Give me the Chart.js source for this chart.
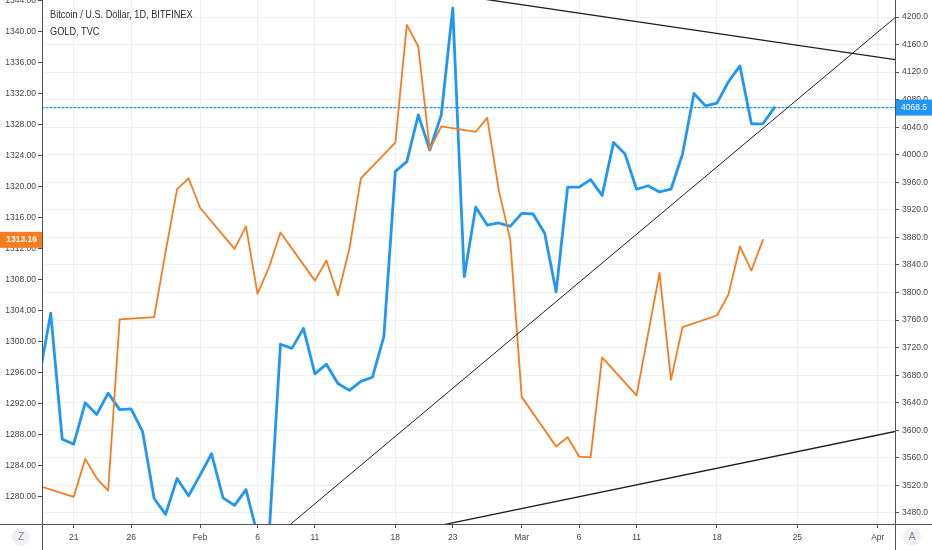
<!DOCTYPE html>
<html lang="en">
<head>
<meta charset="UTF-8" />
<title>Bitcoin / U.S. Dollar vs GOLD</title>
<script src="https://cdn.jsdelivr.net/npm/chart.js"></script>
<style>
  body { margin: 0; background: #fff; }
  #wrap { position: relative; width: 932px; height: 550px; overflow: hidden; }
  #legend {
    position: absolute; left: 50px; top: 6px;
    font-family: "Liberation Sans Narrow", "Liberation Sans", sans-serif;
    font-size: 11.5px; color: #2e2e2e; line-height: 17px;
    transform-origin: 0 0; white-space: nowrap;
  }
  .btn {
    position: absolute; top: 528px; width: 18px; height: 18px; border-radius: 50%;
    background: #f1f1f3; color: #8a8a8a; text-align: center; line-height: 18px;
    font-family: "Liberation Sans", sans-serif; font-size: 10px;
  }
</style>
</head>
<body>
<div id="wrap">
  <canvas id="chart" width="932" height="550"></canvas>
  <div id="legend">
    <div>Bitcoin / U.S. Dollar, 1D, BITFINEX</div>
    <div>GOLD, TVC</div>
  </div>
  <div class="btn" style="left:12px">Z</div>
  <div class="btn" style="left:903px">A</div>
</div>

<script>
  // BTCUSD daily closes (right axis)
  const btcDates = [
    '2019-01-18','2019-01-19','2019-01-20','2019-01-21','2019-01-22','2019-01-23','2019-01-24','2019-01-25',
    '2019-01-26','2019-01-27','2019-01-28','2019-01-29','2019-01-30','2019-01-31','2019-02-01','2019-02-02',
    '2019-02-03','2019-02-04','2019-02-05','2019-02-06','2019-02-07','2019-02-08','2019-02-09','2019-02-10',
    '2019-02-11','2019-02-12','2019-02-13','2019-02-14','2019-02-15','2019-02-16','2019-02-17','2019-02-18',
    '2019-02-19','2019-02-20','2019-02-21','2019-02-22','2019-02-23','2019-02-24','2019-02-25','2019-02-26',
    '2019-02-27','2019-02-28','2019-03-01','2019-03-02','2019-03-03','2019-03-04','2019-03-05','2019-03-06',
    '2019-03-07','2019-03-08','2019-03-09','2019-03-10','2019-03-11','2019-03-12','2019-03-13','2019-03-14',
    '2019-03-15','2019-03-16','2019-03-17','2019-03-18','2019-03-19','2019-03-20','2019-03-21','2019-03-22',
    '2019-03-23'
  ];
  const btcValues = [
    3677, 3770, 3587, 3580, 3640, 3623, 3654, 3630,
    3631, 3598, 3501, 3478, 3530, 3505, 3535, 3566,
    3502, 3491, 3514, 3448, 3445, 3725, 3719, 3748,
    3682, 3696, 3668, 3658, 3671, 3677, 3736, 3976,
    3990, 4058, 4007, 4058, 4213, 3823, 3924, 3898,
    3901, 3896, 3915, 3914, 3886, 3801, 3953, 3953,
    3964, 3941, 4018, 4001, 3950, 3955, 3946, 3950,
    4001, 4089, 4071, 4075, 4106, 4129, 4045, 4045,
    4068.5
  ];

  // GOLD daily closes (left axis), trading days only
  const goldDates = [
    '2019-01-18','2019-01-21','2019-01-22','2019-01-23','2019-01-24','2019-01-25','2019-01-28','2019-01-29',
    '2019-01-30','2019-01-31','2019-02-01','2019-02-04','2019-02-05','2019-02-06','2019-02-07','2019-02-08',
    '2019-02-11','2019-02-12','2019-02-13','2019-02-14','2019-02-15','2019-02-18','2019-02-19','2019-02-20',
    '2019-02-21','2019-02-22','2019-02-25','2019-02-26','2019-02-27','2019-02-28','2019-03-01','2019-03-04',
    '2019-03-05','2019-03-06','2019-03-07','2019-03-08','2019-03-11','2019-03-12','2019-03-13','2019-03-14',
    '2019-03-15','2019-03-18','2019-03-19','2019-03-20','2019-03-21','2019-03-22'
  ];
  const goldValues = [
    1281.4, 1280.0, 1284.9, 1282.4, 1280.8, 1302.9, 1303.2, 1311.6,
    1319.7, 1321.1, 1317.3, 1312.0, 1314.9, 1306.2, 1309.6, 1314.1,
    1307.9, 1310.5, 1306.0, 1312.0, 1321.1, 1325.7, 1340.9, 1338.1,
    1324.8, 1327.8, 1327.1, 1328.9, 1319.6, 1313.2, 1292.9, 1286.5,
    1287.7, 1285.2, 1285.1, 1298.0, 1293.1, 1301.0, 1308.9, 1295.1,
    1301.9, 1303.4, 1306.1, 1312.3, 1309.2, 1313.16
  ];

  // hand-drawn trend lines, in BTC price units (two end points each)
  const trendTopDates = ['2019-02-23', '2019-04-04'];
  const trendTopValues = [4232.6, 4134.5];
  const trendMidDates = ['2019-02-07', '2019-04-04'];
  const trendMidValues = [3437.5, 4220.0];
  const trendLowDates = ['2019-02-22', '2019-04-04'];
  const trendLowValues = [3462.3, 3603.5];

  // x axis ticks
  const xTickDates = ['2019-01-21','2019-01-26','2019-02-01','2019-02-06','2019-02-11','2019-02-18','2019-02-23',
                      '2019-03-01','2019-03-06','2019-03-11','2019-03-18','2019-03-25','2019-04-01'];
  const xTickLabels = ['21','26','Feb','6','11','18','23','Mar','6','11','18','25','Apr'];

  const BLUE = '#2196f3';
  const ORANGE = '#f57c1f';
  const AXIS = '#50535e';
  const GRID = '#eef0f3';

  function hasFont(name) {
    const c = document.createElement('canvas').getContext('2d');
    c.font = '20px monospace';
    const a = c.measureText('1340.00 BITFINEX').width;
    c.font = '20px "' + name + '", monospace';
    return c.measureText('1340.00 BITFINEX').width !== a;
  }
  const narrow = hasFont('Liberation Sans Narrow');
  const FAMILY = narrow ? '"Liberation Sans Narrow"' : '"Liberation Sans"';
  const TICK_SIZE = narrow ? 10.5 : 8.5;
  if (!narrow) document.getElementById('legend').style.transform = 'scaleX(0.8)';

  const base = Date.parse('2019-01-21');
  const dayOf = s => (Date.parse(s) - base) / 86400000;
  const pts = (dates, vals) => dates.map((d, i) => ({ x: dayOf(d), y: vals[i] }));

  const xMin = -2.76, xMax = 71.5;
  const lastBtc = btcValues[btcValues.length - 1];
  const lastGold = goldValues[goldValues.length - 1];
  const xTickDays = xTickDates.map(dayOf);

  const noPad = s => { s.paddingTop = 0; s.paddingBottom = 0; s.paddingLeft = 0; s.paddingRight = 0; };

  const decor = {
    id: 'decor',
    afterDraw(chart) {
      const { ctx, chartArea: a, width, height } = chart;
      ctx.save();
      ctx.strokeStyle = AXIS;
      ctx.lineWidth = 1;
      ctx.beginPath();
      ctx.moveTo(Math.round(a.left) + 0.5, 0); ctx.lineTo(Math.round(a.left) + 0.5, height);
      ctx.moveTo(Math.round(a.right) + 0.5, 0); ctx.lineTo(Math.round(a.right) + 0.5, height);
      ctx.moveTo(0, Math.round(a.bottom) + 0.5); ctx.lineTo(width, Math.round(a.bottom) + 0.5);
      ctx.stroke();

      ctx.font = TICK_SIZE + 'px ' + FAMILY;
      ctx.textBaseline = 'middle';
      const yr = chart.scales.yR.getPixelForValue(lastBtc);
      ctx.fillStyle = BLUE;
      ctx.fillRect(a.right + 1, yr - 8, width - a.right, 16);
      ctx.fillStyle = '#fff';
      ctx.textAlign = 'left';
      ctx.fillText(lastBtc.toFixed(1), a.right + 6, yr);

      const yl = chart.scales.yL.getPixelForValue(lastGold);
      ctx.fillStyle = ORANGE;
      ctx.fillRect(0, yl - 8, a.left, 16);
      ctx.fillStyle = '#fff';
      ctx.textAlign = 'right';
      ctx.font = 'bold ' + TICK_SIZE + 'px ' + FAMILY;
      ctx.fillText(lastGold.toFixed(2), a.left - 5, yl);
      ctx.restore();
    }
  };

  new Chart(document.getElementById('chart'), {
    type: 'line',
    data: {
      datasets: [
        { data: pts(trendTopDates, trendTopValues), yAxisID: 'yR', borderColor: '#1e1e1e', borderWidth: 1.3, pointRadius: 0 },
        { data: pts(trendMidDates, trendMidValues), yAxisID: 'yR', borderColor: '#1e1e1e', borderWidth: 1, pointRadius: 0 },
        { data: pts(trendLowDates, trendLowValues), yAxisID: 'yR', borderColor: '#1e1e1e', borderWidth: 1.3, pointRadius: 0 },
        { data: pts(goldDates, goldValues), yAxisID: 'yL', borderColor: ORANGE, borderWidth: 1.8, pointRadius: 0 },
        { data: pts(btcDates, btcValues), yAxisID: 'yR', borderColor: BLUE, borderWidth: 2.8, pointRadius: 0 },
        { data: [{ x: xMin, y: lastBtc }, { x: xMax, y: lastBtc }], yAxisID: 'yR',
          borderColor: BLUE, borderWidth: 1.2, borderDash: [2, 2], pointRadius: 0 }
      ]
    },
    options: {
      responsive: false,
      animation: false,
      layout: { padding: 0 },
      plugins: { legend: { display: false }, tooltip: { enabled: false } },
      elements: { line: { tension: 0, borderJoinStyle: 'round', borderCapStyle: 'round' } },
      scales: {
        x: {
          type: 'linear', min: xMin, max: xMax,
          afterBuildTicks: s => { s.ticks = xTickDays.map(v => ({ value: v })); },
          afterFit: s => { s.height = 26; noPad(s); },
          border: { display: false },
          grid: { color: GRID, tickColor: AXIS, tickLength: 4 },
          ticks: {
            autoSkip: false, maxRotation: 0, padding: 5,
            color: '#444', font: { family: FAMILY, size: TICK_SIZE },
            callback: v => xTickLabels[xTickDays.indexOf(v)]
          }
        },
        yL: {
          position: 'left', min: 1276.5, max: 1344.1,
          afterBuildTicks: s => { const t = []; for (let v = 1280; v <= 1344; v += 4) t.push({ value: v }); s.ticks = t; },
          afterFit: s => { s.width = 42; noPad(s); },
          border: { display: false },
          grid: { drawOnChartArea: false, tickColor: AXIS, tickLength: 4 },
          ticks: { padding: 2, color: '#444', font: { family: FAMILY, size: TICK_SIZE }, callback: v => v.toFixed(2) }
        },
        yR: {
          position: 'right', min: 3464, max: 4224.7,
          afterBuildTicks: s => { const t = []; for (let v = 3480; v <= 4200; v += 40) t.push({ value: v }); s.ticks = t; },
          afterFit: s => { s.width = 37; noPad(s); },
          border: { display: false },
          grid: { color: GRID, tickColor: AXIS, tickLength: 4 },
          ticks: { padding: 3, color: '#444', font: { family: FAMILY, size: TICK_SIZE }, callback: v => v.toFixed(1) }
        }
      }
    },
    plugins: [decor]
  });
</script>
</body>
</html>
